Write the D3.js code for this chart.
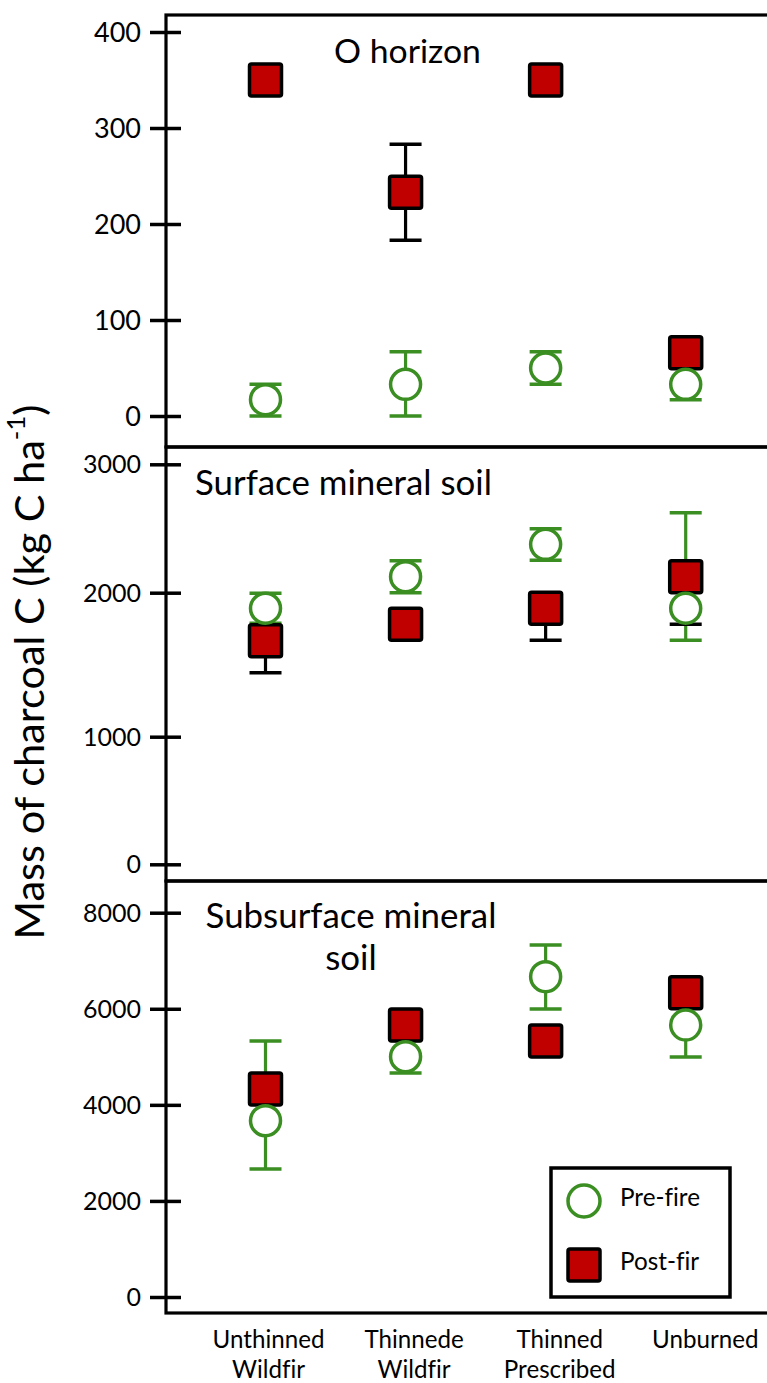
<!DOCTYPE html>
<html><head><meta charset="utf-8">
<script src="https://cdn.jsdelivr.net/npm/d3@7"></script>
<style>
body{margin:0;background:#fff}
svg{display:block}
text{font-family:Lato,"Open Sans",sans-serif;fill:#000;font-variant-ligatures:none;font-feature-settings:"liga" 0}
</style>
</head><body>
<svg id="chart" width="767" height="1383"></svg>
<script>
// ---------------- data ----------------
const categories = ["Unthinned Wildfir", "Thinnede Wildfir", "Thinned Prescribed", "Unburned"];
const categoryLines = [["Unthinned", "Wildfir"], ["Thinnede", "Wildfir"], ["Thinned", "Prescribed"], ["Unburned"]];
const seriesNames = ["Pre-fire", "Post-fir"];
const yTitle = "Mass of charcoal C (kg C ha";
const yTitleSup = "-1";

// O horizon
const oTitle = ["O horizon"];
const oTicks = [0, 100, 200, 300, 400];
const oPre = [17, 33, 50, 33];
const oPreLo = [0, 0, 33, 17];
const oPreHi = [33, 67, 67, 50];
const oPost = [350, 233, 350, 66];
const oPostLo = [350, 183, 350, 66];
const oPostHi = [350, 283, 350, 66];

// Surface mineral soil
const sTitle = ["Surface mineral soil"];
const sTicks = [0, 1000, 2000, 3000];
const sPre = [1892, 2125, 2377, 1892];
const sPreLo = [1788, 2000, 2252, 1669];
const sPreHi = [1996, 2249, 2498, 2623];
const sPost = [1667, 1781, 1892, 2125];
const sPostLo = [1444, 1781, 1669, 1781];
const sPostHi = [1667, 1781, 1892, 2125];

// Subsurface mineral soil
const ssTitle = ["Subsurface mineral", "soil"];
const ssTicks = [0, 2000, 4000, 6000, 8000];
const ssPre = [3670, 5002, 6668, 5662];
const ssPreLo = [2664, 4663, 5995, 4996];
const ssPreHi = [5329, 5341, 7327, 6328];
const ssPost = [4330, 5662, 5329, 6334];
const ssPostLo = [4330, 5662, 5329, 6334];
const ssPostHi = [4330, 5662, 5329, 6334];

// ---------------- layout ----------------
const svg = d3.select("#chart");
const W = 767;
const axisX = 166;
const green = "#3a8e22";
const red = "#c00000";

const x = d3.scalePoint().domain(categories).range([265.5, 685.7]);
const xLabel = d3.scalePoint().domain(categories).range([268.5, 705.3]);

const panels = [
  {title: oTitle, ticks: oTicks, top: 15, bottom: 447,
   y: d3.scaleLinear().domain([0, 400]).range([416, 32]),
   pre: oPre, preLo: oPreLo, preHi: oPreHi, post: oPost, postLo: oPostLo, postHi: oPostHi,
   tickFont: 27, titlePos: {x: 334, y: 63, anchor: "start", width: 147}},
  {title: sTitle, ticks: sTicks, top: 447, bottom: 881,
   y: d3.scaleLinear().domain([0, 1000, 2000, 3000]).range([864.3, 736.7, 592.7, 464.3]),
   pre: sPre, preLo: sPreLo, preHi: sPreHi, post: sPost, postLo: sPostLo, postHi: sPostHi,
   tickFont: 25, titlePos: {x: 195, y: 495, anchor: "start", width: 297}},
  {title: ssTitle, ticks: ssTicks, top: 881, bottom: 1313,
   y: d3.scaleLinear().domain([0, 8000]).range([1297, 912.7]),
   pre: ssPre, preLo: ssPreLo, preHi: ssPreHi, post: ssPost, postLo: ssPostLo, postHi: ssPostHi,
   tickFont: 25, titlePos: {x: 351, y: 928, anchor: "middle", width: 291}}
];

function fit(sel, target) {
  const fs = parseFloat(sel.attr("font-size"));
  const w = sel.node().getComputedTextLength();
  if (w > 0) sel.attr("font-size", fs * target / w);
  return parseFloat(sel.attr("font-size"));
}

const capHalf = 16;
const sq = 32;
const rC = 15;

panels.forEach((p, pi) => {
  const g = svg.append("g");
  // panel frame
  g.append("rect").attr("x", axisX).attr("y", p.top)
    .attr("width", W + 50 - axisX).attr("height", p.bottom - p.top)
    .attr("fill", "none").attr("stroke", "#000").attr("stroke-width", 3.2);

  // y axis
  const ax = g.append("g").attr("transform", `translate(${axisX},0)`)
    .call(d3.axisLeft(p.y).tickValues(p.ticks).tickFormat(d3.format("d")).tickSizeOuter(0));
  ax.select(".domain").remove();
  ax.selectAll(".tick line").attr("x1", -16).attr("x2", 15)
    .attr("stroke", "#000").attr("stroke-width", 3.5);
  ax.selectAll(".tick text").attr("x", -25).attr("dy", "0.34em")
    .attr("font-size", p.tickFont).attr("font-family", "Lato, 'Open Sans', sans-serif")
    .attr("fill", "#000");

  // title
  const tp = p.titlePos;
  const t1 = g.append("text").attr("x", tp.x).attr("y", tp.y)
    .attr("text-anchor", tp.anchor).attr("font-size", 28).text(p.title[0]);
  const fs = fit(t1, tp.width);
  if (p.title.length > 1) {
    g.append("text").attr("x", tp.x).attr("y", tp.y + 42)
      .attr("text-anchor", tp.anchor).attr("font-size", fs).text(p.title[1]);
  }

  const y = p.y;
  const series = [
    {v: p.pre, lo: p.preLo, hi: p.preHi, color: green},
    {v: p.post, lo: p.postLo, hi: p.postHi, color: "#000"}
  ];
  // error bars
  series.forEach(s => {
    categories.forEach((c, i) => {
      const cx = x(c);
      if (s.lo[i] !== s.hi[i]) {
        g.append("line").attr("x1", cx).attr("x2", cx)
          .attr("y1", y(s.lo[i])).attr("y2", y(s.hi[i]))
          .attr("stroke", s.color).attr("stroke-width", 3.2);
      }
      [s.lo[i], s.hi[i]].forEach(e => {
        if (e !== s.v[i]) {
          g.append("line").attr("x1", cx - capHalf).attr("x2", cx + capHalf)
            .attr("y1", y(e)).attr("y2", y(e))
            .attr("stroke", s.color).attr("stroke-width", 3.5);
        }
      });
    });
  });
  // post-fire squares
  g.selectAll(".post").data(categories).join("rect").attr("class", "post")
    .attr("x", c => x(c) - sq / 2)
    .attr("y", (c, i) => y(p.post[i]) - sq / 2)
    .attr("width", sq).attr("height", sq).attr("rx", 2)
    .attr("fill", red).attr("stroke", "#000").attr("stroke-width", 3.5);
  // pre-fire circles
  g.selectAll(".pre").data(categories).join("circle").attr("class", "pre")
    .attr("cx", c => x(c))
    .attr("cy", (c, i) => y(p.pre[i]))
    .attr("r", rC)
    .attr("fill", "#fff").attr("stroke", green).attr("stroke-width", 3.5);
});

// x category labels
const xl = svg.append("g");
let labelFont = 22;
const probe = xl.append("text").attr("font-size", 22).text(categoryLines[0][0]);
labelFont = fit(probe, 112);
probe.remove();
categories.forEach((c, i) => {
  categoryLines[i].forEach((line, j) => {
    xl.append("text").attr("x", xLabel(c)).attr("y", 1348 + j * 30)
      .attr("text-anchor", "middle").attr("font-size", labelFont).text(line);
  });
});

// legend
const lg = svg.append("g");
lg.append("rect").attr("x", 551).attr("y", 1168).attr("width", 179).attr("height", 129)
  .attr("fill", "#fff").attr("stroke", "#000").attr("stroke-width", 3.5);
lg.append("circle").attr("cx", 584).attr("cy", 1201).attr("r", 16)
  .attr("fill", "#fff").attr("stroke", green).attr("stroke-width", 3.5);
lg.append("rect").attr("x", 584 - sq / 2).attr("y", 1265 - sq / 2).attr("width", sq).attr("height", sq)
  .attr("rx", 2).attr("fill", red).attr("stroke", "#000").attr("stroke-width", 3.5);
const lt1 = lg.append("text").attr("x", 620).attr("y", 1206).attr("font-size", 22).text(seriesNames[0]);
const lfs = fit(lt1, 80);
lg.append("text").attr("x", 620).attr("y", 1270).attr("font-size", lfs).text(seriesNames[1]);

// y axis title
const yt = svg.append("text").attr("transform", "translate(44,672) rotate(-90)")
  .attr("text-anchor", "middle").attr("font-size", 30);
yt.append("tspan").text(yTitle);
yt.append("tspan").attr("font-size", "62%").attr("dy", "-0.75em").text(yTitleSup);
yt.append("tspan").attr("dy", "0.465em").text(")");
fit(yt, 535);
</script>
</body></html>
